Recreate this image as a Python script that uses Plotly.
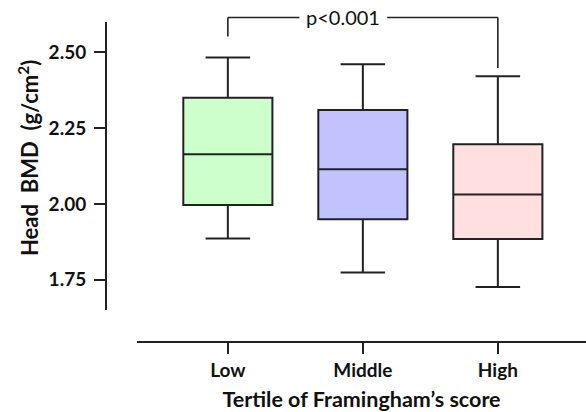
import plotly.graph_objects as go

# ---- data ----
categories = ["Low", "Middle", "High"]
lower_whisker = [1.886, 1.774, 1.726]
q1_values = [1.996, 1.949, 1.884]
medians = [2.164, 2.114, 2.031]
q3_values = [2.350, 2.310, 2.197]
upper_whisker = [2.483, 2.461, 2.421]
fill_colors = ["#ccffcc", "#c2c2ff", "#ffdfdf"]
y_ticks = [1.75, 2.00, 2.25, 2.50]
y_tick_labels = ["1.75", "2.00", "2.25", "2.50"]
p_label = "p<0.001"
y_title = "Head&nbsp; BMD&nbsp; (g/cm<sup>2</sup>)"
x_title = "Tertile of Framingham’s score"

# ---- layout constants ----
Y_RANGE = [1.65, 2.60]
X_RANGE = [-0.673, 2.653]
LINE_COLOR = "#222222"
TEXT_COLOR = "#111111"
FONT = "Lato"

fig = go.Figure()
for cat, lo, q1, med, q3, hi, col in zip(categories, lower_whisker, q1_values,
                                         medians, q3_values, upper_whisker, fill_colors):
    fig.add_trace(go.Box(
        x=[cat], q1=[q1], median=[med], q3=[q3],
        lowerfence=[lo], upperfence=[hi],
        fillcolor=col, line=dict(color=LINE_COLOR, width=2),
        whiskerwidth=0.5, width=0.66, boxpoints=False,
        showlegend=False, hoverinfo="skip",
    ))

# significance bracket (x in data units, y in y-domain units)
def ydom(v):
    return (v - Y_RANGE[0]) / (Y_RANGE[1] - Y_RANGE[0])

bracket_top = 2.615
left_drop = 2.552
right_drop = 2.448
gap = [0.53, 1.18]
seg = dict(type="line", xref="x", yref="y domain",
           line=dict(color=LINE_COLOR, width=1.6))
fig.add_shape(x0=0, x1=0, y0=ydom(left_drop), y1=ydom(bracket_top), **seg)
fig.add_shape(x0=0, x1=gap[0], y0=ydom(bracket_top), y1=ydom(bracket_top), **seg)
fig.add_shape(x0=gap[1], x1=2, y0=ydom(bracket_top), y1=ydom(bracket_top), **seg)
fig.add_shape(x0=2, x1=2, y0=ydom(right_drop), y1=ydom(bracket_top), **seg)
fig.add_annotation(x=sum(gap) / 2, xref="x", y=ydom(bracket_top), yref="y domain",
                   text=p_label, showarrow=False, borderpad=0,
                   font=dict(family=FONT, size=20, color=TEXT_COLOR),
                   xanchor="center", yanchor="middle")

# y-axis title placed as rotated text beside the axis
fig.add_annotation(x=0, xref="paper", y=0.5, yref="y domain",
                   xshift=-78, yshift=8, textangle=-90,
                   text=y_title, showarrow=False, borderpad=0,
                   font=dict(family=FONT, size=22, weight="bold", color=TEXT_COLOR),
                   xanchor="center", yanchor="middle")

fig.update_layout(
    width=586, height=412,
    margin=dict(l=106, r=0, t=10, b=70, pad=0),
    paper_bgcolor="white", plot_bgcolor="white",
    boxmode="overlay",
    font=dict(family=FONT, color=TEXT_COLOR),
    xaxis=dict(
        type="category", categoryorder="array", categoryarray=categories,
        range=X_RANGE, domain=[31 / 480, 1], anchor="free", position=0,
        automargin=False,
        showline=True, linecolor=LINE_COLOR, linewidth=2,
        ticks="outside", ticklen=11, tickwidth=2, tickcolor=LINE_COLOR,
        tickfont=dict(family=FONT, size=19, weight="bold", color=TEXT_COLOR),
        showgrid=False, zeroline=False,
        title=dict(text=x_title, standoff=14,
                   font=dict(family=FONT, size=21.5, weight="bold", color=TEXT_COLOR)),
    ),
    yaxis=dict(
        range=Y_RANGE, domain=[32 / 332, 320 / 332], anchor="free", position=0,
        automargin=False,
        showline=True, linecolor=LINE_COLOR, linewidth=2,
        ticks="outside", ticklen=11, tickwidth=2, tickcolor=LINE_COLOR,
        ticklabelstandoff=4,
        tickvals=y_ticks, ticktext=y_tick_labels,
        tickfont=dict(family=FONT, size=19, weight="bold", color=TEXT_COLOR),
        showgrid=False, zeroline=False,
    ),
)

# remove the default 8px page margin so the figure fills the window exactly
fig.write_html("out.html", config={"displayModeBar": False},
               post_script="document.body.style.margin='0';")
